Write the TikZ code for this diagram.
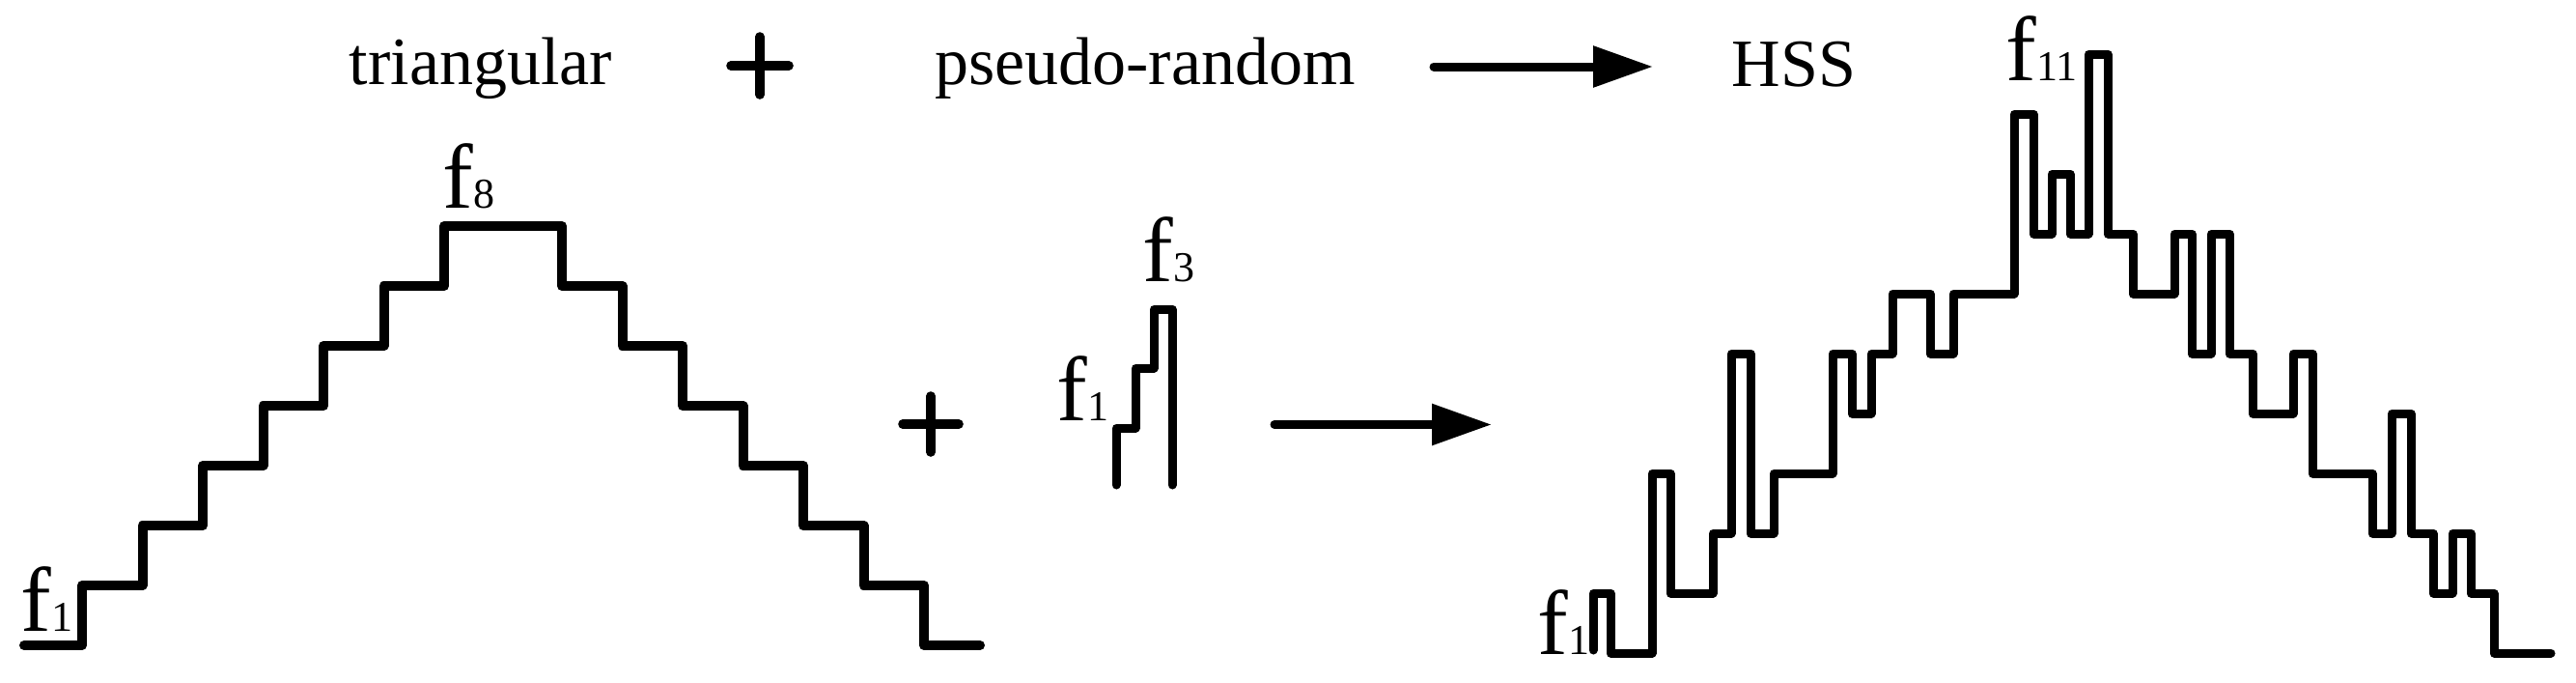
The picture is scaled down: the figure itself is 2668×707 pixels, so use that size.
\documentclass[tikz,border=0pt]{standalone}
\usepackage{fontspec}
\setmainfont{Liberation Serif}
\usetikzlibrary{arrows.meta}

\newcommand{\flab}[1]{{\fontsize{23.75pt}{24pt}\selectfont f}{\fontsize{11pt}{12pt}\selectfont #1}}

\tikzset{
  wave/.style={line width=2.25pt,line join=round,line cap=round},
  stair/.style={line width=2.5pt,line join=round,line cap=round},
  plusline/.style={line width=2.4pt,line cap=round},
  bigarrow/.style={line width=2.25pt,line cap=round,-{Triangle[length=15.5pt,width=10.25pt]}},
  title/.style={inner sep=0pt,anchor=base,font=\fontsize{17.5pt}{18pt}\selectfont},
  flabel/.style={inner sep=0pt,anchor=base west}
}

\begin{document}
\begin{tikzpicture}[x=0.25pt,y=-0.25pt]
\useasboundingbox (0,0) rectangle (2668,707);

% top line
\node[title] (tri) at (498,87) {triangular};
\draw[plusline] (787,38) -- (787,98) (757,68) -- (817,68);
\node[title] (pr) at (1186,87) {pseudo-random};
\coordinate (a1s) at (1485,69);
\coordinate (a1e) at (1712,69);
\draw[bigarrow] (a1s) -- (a1e);
\node[title] (hss) at (1858,89) {HSS};

% triangular staircase
\draw[stair] (25,668) -| (85,606) -| (147.5,544) -| (210,482) -| (272.5,420)
  -| (335,358) -| (397.5,296) -| (460,234) -| (582,296) -| (644.5,358)
  -| (707,420) -| (769.5,482) -| (832,544) -| (894.5,606) -| (957,668) -- (1015,668);
\node[flabel] (t1) at (21,653) {\flab{1}};
\node[flabel] (t8) at (458,215) {\flab{8}};

\draw[plusline] (964,410) -- (964,468) (935,439) -- (993,439);

% pseudo-random
\draw[wave] (1156,502) |- (1176,443) |- (1195,381) |- (1214,320) -- (1214,502);
\node[flabel] (p1) at (1094,435) {\flab{1}};
\node[flabel] (p3) at (1183,291) {\flab{3}};

\coordinate (a2s) at (1320,439.5);
\coordinate (a2e) at (1545,439.5);
\draw[bigarrow] (a2s) -- (a2e);

% HSS
\draw[wave] (1650,673) |- (1668,614) |- (1711,676) |- (1730,490) |- (1774,614)
  |- (1793,552) |- (1813,366) |- (1837,552) |- (1898,490) |- (1918,366)
  |- (1938,428) |- (1960,366) |- (1999,304) |- (2023,366) |- (2086,304)
  |- (2106,118) |- (2125,242) |- (2144,180) |- (2163,242) |- (2183,56)
  |- (2209,242) |- (2252,304) |- (2270,242) |- (2290,366) |- (2309,242)
  |- (2333,366) |- (2375,428) |- (2395,366) |- (2457,490) |- (2477,552)
  |- (2497,428) |- (2520,552) |- (2540,614) |- (2559,552) |- (2583,614)
  |- (2642,676);
\node[flabel] (h1) at (1592,677) {\flab{1}};
\node[flabel] (h11) at (2077,83) {\flab{11}};
\end{tikzpicture}
\end{document}
